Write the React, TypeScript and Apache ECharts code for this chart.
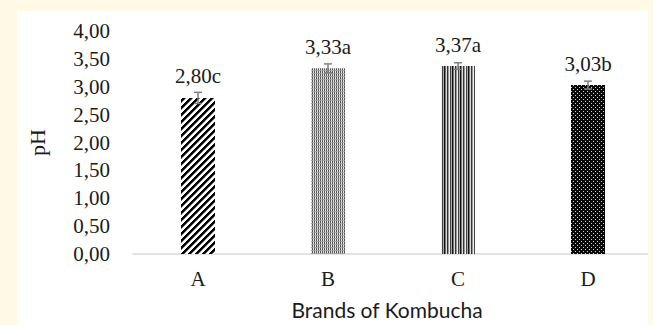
import React, { useEffect, useRef } from "react";
import * as echarts from "echarts";

const categories = ["A", "B", "C", "D"];
const phValues = [2.8, 3.33, 3.37, 3.03];
const phErrors = [0.1, 0.08, 0.06, 0.07];
const sigLetters = ["c", "a", "a", "b"];
const yTicks = { min: 0, max: 4, interval: 0.5 };

function makePattern(w: number, h: number, fn: (x: number, y: number) => string) {
  const c = document.createElement("canvas");
  c.width = w;
  c.height = h;
  const ctx = c.getContext("2d")!;
  for (let y = 0; y < h; y++) {
    for (let x = 0; x < w; x++) {
      ctx.fillStyle = fn(x, y);
      ctx.fillRect(x, y, 1, 1);
    }
  }
  return { image: c as any, repeat: "repeat" as const };
}

const comma = (v: number) => v.toFixed(2).replace(".", ",");

export default function App() {
  const ref = useRef<HTMLDivElement>(null);
  useEffect(() => {
    if (!ref.current) return;
    const chart = echarts.init(ref.current, null, { renderer: "svg" });

    const patA = makePattern(7, 7, (x, y) => {
      const m = (x + y) % 7;
      return m < 3 ? "#000000" : m === 3 ? "#777777" : "#ffffff";
    });
    const patB = makePattern(4, 3, (x, y) => {
      if (x % 2 === 0) return y % 2 === 0 ? "#555555" : "#999999";
      return y === 1 ? "#aaaaaa" : "#e6e6e6";
    });
    const cCols = ["#999999", "#eeeeee", "#444444", "#aaaaaa", "#111111", "#777777", "#dddddd", "#333333"];
    const patC = makePattern(8, 1, (x) => cCols[x]);
    const patD = makePattern(4, 4, (x, y) =>
      (x === 1 && y === 1) || (x === 3 && y === 3) ? "#d0d0d0" : "#0a0a0a"
    );
    const pats = [patA, patB, patC, patD];

    const serif = "'Liberation Serif', 'Times New Roman', serif";
    const ink = "#1a1a1a";

    chart.setOption({
      animation: false,
      backgroundColor: "transparent",
      graphic: [
        { type: "rect", z: -100, shape: { x: 17, y: 11, width: 631, height: 320 }, style: { fill: "#ffffff" } },
        { type: "rect", z: 100, shape: { x: 648, y: 0, width: 10, height: 330 }, style: { fill: "#FFF9E6" } },
      ],
      grid: { left: 133, top: 31, width: 532, height: 224 },
      xAxis: {
        type: "category",
        data: categories,
        axisLine: { lineStyle: { color: "#d9d9d9", width: 1.5 } },
        axisTick: { show: false },
        axisLabel: { fontFamily: serif, fontSize: 21, color: ink, margin: 14 },
        name: "Brands of Kombucha",
        nameLocation: "middle",
        nameGap: 45,
        nameTextStyle: { fontFamily: "Lato, 'Open Sans', sans-serif", fontSize: 21, color: ink, padding: [0, 12, 0, 0] },
      },
      yAxis: {
        type: "value",
        min: yTicks.min,
        max: yTicks.max,
        interval: yTicks.interval,
        axisLine: { show: false },
        axisTick: { show: false },
        splitLine: { show: false },
        axisLabel: { fontFamily: serif, fontSize: 21, color: ink, margin: 23, formatter: (v: number) => comma(v) },
        name: "pH",
        nameLocation: "middle",
        nameGap: 85,
        nameRotate: 90,
        nameTextStyle: { fontFamily: serif, fontSize: 22, color: ink },
      },
      series: [
        {
          type: "bar",
          barWidth: 34,
          data: phValues.map((v, i) => ({ value: v, itemStyle: { color: pats[i] } })),
          label: {
            show: true,
            position: "top",
            distance: 11,
            fontFamily: serif,
            fontSize: 21,
            color: ink,
            formatter: (p: any) => comma(phValues[p.dataIndex]) + sigLetters[p.dataIndex],
          },
          z: 2,
        },
        {
          type: "custom",
          z: 5,
          data: phValues.map((v, i) => [i, v, phErrors[i]]),
          renderItem: (params: any, api: any) => {
            const x = api.value(0);
            const v = api.value(1);
            const e = api.value(2);
            const top = api.coord([x, v + e]);
            const bot = api.coord([x, v - e]);
            const hw = 4;
            const style = { stroke: "#7f7f7f", lineWidth: 1.5 };
            return {
              type: "group",
              children: [
                { type: "line", shape: { x1: top[0], y1: top[1], x2: bot[0], y2: bot[1] }, style },
                { type: "line", shape: { x1: top[0] - hw, y1: top[1], x2: top[0] + hw, y2: top[1] }, style },
                { type: "line", shape: { x1: bot[0] - hw, y1: bot[1], x2: bot[0] + hw, y2: bot[1] }, style },
              ],
            };
          },
        },
      ],
    });
    return () => chart.dispose();
  }, []);

  return (
    <div style={{ position: "fixed", left: 0, top: 0, width: 653, height: 325, background: "#FFF9E6" }}>
      <div ref={ref} style={{ width: 653, height: 325 }} />
    </div>
  );
}
